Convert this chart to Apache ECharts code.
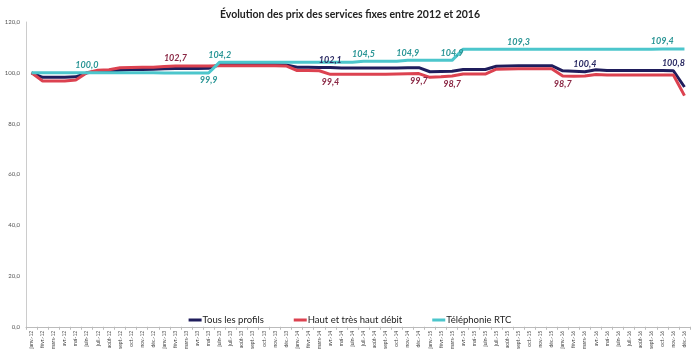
<!DOCTYPE html>
<html>
<head>
<meta charset="utf-8">
<script src="https://cdn.jsdelivr.net/npm/echarts@6/dist/echarts.min.js"></script>
<style>
  html, body { margin: 0; padding: 0; background: #fff; }
  #prix { width: 700px; height: 352px; }
</style>
</head>
<body>
<div id="prix"></div>
<script>
const months = [
  'janv.-12', 'févr.-12', 'mars-12', 'avr.-12', 'mai-12', 'juin-12', 'juil.-12', 'août-12', 'sept.-12', 'oct.-12', 'nov.-12', 'déc.-12',
  'janv.-13', 'févr.-13', 'mars-13', 'avr.-13', 'mai-13', 'juin-13', 'juil.-13', 'août-13', 'sept.-13', 'oct.-13', 'nov.-13', 'déc.-13',
  'janv.-14', 'févr.-14', 'mars-14', 'avr.-14', 'mai-14', 'juin-14', 'juil.-14', 'août-14', 'sept.-14', 'oct.-14', 'nov.-14', 'déc.-14',
  'janv.-15', 'févr.-15', 'mars-15', 'avr.-15', 'mai-15', 'juin-15', 'juil.-15', 'août-15', 'sept.-15', 'oct.-15', 'nov.-15', 'déc.-15',
  'janv.-16', 'févr.-16', 'mars-16', 'avr.-16', 'mai-16', 'juin-16', 'juil.-16', 'août-16', 'sept.-16', 'oct.-16', 'nov.-16', 'déc.-16'
];

const tousProfils = [
  100.0, 98.2, 98.2, 98.2, 98.4, 100.0, 100.4, 100.6, 101.0, 101.3, 101.3, 101.4,
  101.6, 101.7, 101.7, 101.7, 101.8, 103.2, 103.2, 103.2, 103.2, 103.2, 103.2, 103.1,
  102.2, 102.2, 102.1, 102.1, 101.9, 101.9, 101.9, 101.9, 101.9, 101.9, 102.0, 102.0,
  100.4, 100.5, 100.6, 101.3, 101.3, 101.3, 102.6, 102.7, 102.8, 102.8, 102.8, 102.8,
  100.8, 100.6, 100.4, 101.2, 100.9, 100.9, 100.9, 100.9, 100.9, 100.9, 100.8, 94.4
];

const hautDebit = [
  100.0, 96.8, 96.8, 96.8, 97.2, 100.0, 101.0, 101.2, 102.0, 102.1, 102.2, 102.2,
  102.5, 102.7, 102.7, 102.7, 102.7, 102.8, 102.8, 102.8, 102.8, 102.8, 102.8, 102.7,
  100.9, 100.9, 100.8, 99.4, 99.4, 99.4, 99.4, 99.4, 99.4, 99.5, 99.6, 99.7,
  98.2, 98.4, 98.7, 99.5, 99.5, 99.5, 101.4, 101.5, 101.6, 101.6, 101.6, 101.6,
  98.7, 98.6, 98.7, 99.3, 99.1, 99.1, 99.1, 99.1, 99.1, 99.1, 99.1, 91.0
];

const telephonie = [
  100.0, 100.0, 100.0, 100.0, 100.0, 100.0, 100.0, 100.0, 100.0, 100.0, 100.0, 100.0,
  99.9, 99.9, 99.9, 99.9, 99.9, 104.2, 104.2, 104.2, 104.2, 104.2, 104.2, 104.2,
  104.2, 104.2, 104.2, 104.2, 104.2, 104.2, 104.5, 104.5, 104.5, 104.5, 104.9, 104.9,
  104.9, 104.9, 104.9, 109.3, 109.3, 109.3, 109.3, 109.3, 109.3, 109.3, 109.3, 109.3,
  109.3, 109.3, 109.3, 109.3, 109.3, 109.3, 109.3, 109.3, 109.3, 109.4, 109.4, 109.4
];

// months that carry a value label
const labelsTous = [27, 50, 58];
const labelsHaut = [13, 27, 35, 38, 48];
const labelsTel = [5, 16, 17, 30, 34, 38, 44, 57];

const fmt = (v) => v.toFixed(1).replace('.', ',');

const withLabels = (values, idx, color, below) =>
  values.map((v, i) => {
    if (idx.indexOf(i) < 0) return v;
    return {
      value: v,
      label: {
        show: true,
        position: below.indexOf(i) >= 0 ? 'bottom' : 'top',
        distance: 3,
        color,
        fontStyle: 'italic',
        fontWeight: 'bold',
        fontSize: 9,
        formatter: (p) => fmt(p.value)
      }
    };
  });

const lineSeries = (name, color, data) => ({
  name,
  type: 'line',
  showSymbol: true,
  symbol: 'circle',
  symbolSize: 0,
  color,
  lineStyle: { width: 3 },
  data
});

const chart = echarts.init(document.getElementById('prix'));
chart.setOption({
  animation: false,
  textStyle: { fontFamily: 'Lato, "Open Sans", sans-serif' },
  title: {
    text: 'Évolution des prix des services fixes entre 2012 et 2016',
    left: 'center',
    top: 4,
    textStyle: { fontSize: 10.5, fontWeight: 'bold', color: '#222' }
  },
  legend: {
    bottom: 22,
    left: 'center',
    itemGap: 30,
    itemWidth: 13,
    itemHeight: 3,
    icon: 'rect',
    textStyle: { fontSize: 9.5, color: '#222', padding: [0, 0, 0, -4] },
    data: ['Tous les profils', 'Haut et très haut débit', 'Téléphonie RTC']
  },
  grid: { left: 26, right: 10, top: 22, bottom: 24 },
  xAxis: {
    type: 'category',
    data: months,
    boundaryGap: true,
    axisLine: { lineStyle: { color: '#bbb' } },
    axisTick: { show: true, length: 3, lineStyle: { color: '#bbb' } },
    axisLabel: { interval: 0, rotate: 90, fontSize: 5, color: '#444', margin: 4 }
  },
  yAxis: {
    type: 'value',
    min: 0,
    max: 120,
    interval: 20,
    axisLine: { show: true, lineStyle: { color: '#ccc' } },
    axisTick: { show: false },
    splitLine: { show: false },
    axisLabel: { fontSize: 6, color: '#555', margin: 6, formatter: fmt }
  },
  series: [
    lineSeries('Tous les profils', '#1f1d5c',
      withLabels(tousProfils, labelsTous, '#2a2a63', [])),
    lineSeries('Haut et très haut débit', '#dc4250',
      withLabels(hautDebit, labelsHaut, '#8a2744', [27, 35, 38, 48])),
    lineSeries('Téléphonie RTC', '#4cc6cc',
      withLabels(telephonie, labelsTel, '#2b9696', [16]))
  ]
});
</script>
</body>
</html>
